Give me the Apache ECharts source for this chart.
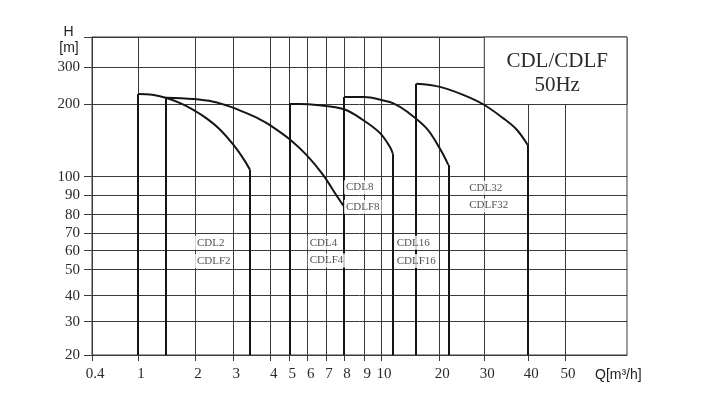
<!DOCTYPE html>
<html><head><meta charset="utf-8">
<script src="https://cdn.jsdelivr.net/npm/echarts@6/dist/echarts.min.js"></script>
<style>html,body{margin:0;padding:0;background:#fff}#c{width:708px;height:409px}</style>
</head><body><div id="c"></div>
<script>
// ---- tick labels ----
const xTicks = [0.4, 1, 2, 3, 4, 5, 6, 7, 8, 9, 10, 20, 30, 40, 50];
const yTicks = [20, 30, 40, 50, 60, 70, 80, 90, 100, 200, 300];

// ---- series values: Q [m3/h] and H [m] along each curve ----
const cdl2Q  = [1, 1.19, 1.4, 1.67, 1.96, 2.26, 2.61, 3.0, 3.24, 3.41];
const cdl2H  = [224, 222, 215, 203, 190, 175, 157, 136, 119, 107];
const cdl4Q  = [1.4, 1.96, 2.43, 2.9, 3.32, 3.68, 3.98, 5.03, 5.94, 6.84, 7.55, 8];
const cdl4H  = [215, 212, 206, 196, 184, 173.5, 164, 143, 123, 101.6, 90, 84];
const cdl8Q  = [5, 5.56, 6.47, 8, 8.95, 9.94, 11.13, 11.5];
const cdl8H  = [201, 201, 199, 191, 172, 152, 133, 125];
const cdl16Q = [8, 9, 10.3, 11.6, 13.6, 17.2, 20.1, 21.7];
const cdl16H = [217, 217, 209, 202.5, 187, 159, 131, 112];
const cdl32Q = [15.2, 20.1, 24.8, 29.8, 34, 37.1, 39.8];
const cdl32H = [250, 242, 222, 200, 175, 157, 136];

// ---- family labels (text and where they sit, in Q/H units) ----
const labelTop    = ['CDL2', 'CDL4', 'CDL8', 'CDL16', 'CDL32'];
const labelBottom = ['CDLF2', 'CDLF4', 'CDLF8', 'CDLF16', 'CDLF32'];
const labelQ      = [2, 6, 8, 11.77, 25.7];
const labelTopH   = [64.4, 64.4, 94.1, 64.4, 93.9];
const labelBotH   = [54.4, 54.6, 83.9, 54.4, 84.5];
const boxTitle = 'CDL/CDLF\n50Hz';
const boxFromQ = 30, boxFromH = 200;

// ---- printed scale of the chart (non-uniform logarithmic grid) ----
const xScaleVals = [0.4, 1, 2, 3, 4, 5, 6, 7, 8, 9, 10, 20, 30, 40, 50, 70];
const xScaleAt   = [0, 46, 103, 141.3, 178.7, 197.3, 215.7, 234, 252, 272.3, 289, 347.3, 392.3, 436.3, 473, 535];
const yScaleVals = [20, 30, 40, 50, 60, 70, 80, 90, 100, 200, 300, 400];
const yScaleAt   = [0, 33.3, 59.3, 85.3, 104.3, 121.7, 140.3, 160, 178.3, 250.5, 288, 318];

function scale(vals, at) {
  return function (v) {
    for (let i = 0; i < vals.length - 1; i++) {
      if (v <= vals[i + 1] || i === vals.length - 2) {
        const f = Math.log(v / vals[i]) / Math.log(vals[i + 1] / vals[i]);
        return at[i] + f * (at[i + 1] - at[i]);
      }
    }
  };
}
const sx = scale(xScaleVals, xScaleAt);
const sy = scale(yScaleVals, yScaleAt);
const xMax = xScaleAt[xScaleAt.length - 1];
const yMax = yScaleAt[yScaleAt.length - 1];
const H0 = yScaleVals[0];

function labelOf(ticks, s) {
  return function (v) {
    for (const t of ticks) if (Math.abs(s(t) - v) < 0.01) return String(t);
    return '';
  };
}

const families = [
  [cdl2Q, cdl2H], [cdl4Q, cdl4H], [cdl8Q, cdl8H], [cdl16Q, cdl16H], [cdl32Q, cdl32H]
];
const INK = '#151515';
const GRID = '#3a3a3a';
const SERIF = 'Liberation Serif';

const series = families.map(([Q, H], k) => {
  const n = Q.length - 1;
  return {
    type: 'line',
    name: labelTop[k],
    data: Q.map((q, i) => [sx(q), sy(H[i])]),
    smooth: 0.35,
    symbol: 'none',
    lineStyle: { color: INK, width: 2 },
    z: 3,
    markLine: {
      silent: true,
      symbol: ['none', 'none'],
      label: { show: false },
      lineStyle: { color: INK, width: 2, type: 'solid' },
      emphasis: { disabled: true },
      data: [
        [{ coord: [sx(Q[0]), sy(H0)] }, { coord: [sx(Q[0]), sy(H[0])] }],
        [{ coord: [sx(Q[n]), sy(H[n])] }, { coord: [sx(Q[n]), sy(H0)] }]
      ]
    }
  };
});

const labelData = [];
labelTop.forEach((t, i) => {
  labelData.push([sx(labelQ[i]), sy(labelTopH[i]), t]);
  labelData.push([sx(labelQ[i]), sy(labelBotH[i]), labelBottom[i]]);
});

series.push({
  type: 'scatter',
  data: labelData,
  symbolSize: 0,
  silent: true,
  z: 10,
  label: {
    show: true, position: 'right', distance: 0,
    formatter: p => p.data[2],
    fontFamily: SERIF, fontSize: 11, lineHeight: 12, color: '#1e1e1e',
    backgroundColor: '#fff', padding: [1, 2]
  },
  markArea: {
    silent: true,
    itemStyle: { color: '#fff', borderColor: GRID, borderWidth: 1 },
    label: {
      show: true, position: 'inside', formatter: boxTitle,
      fontFamily: SERIF, fontSize: 21, lineHeight: 24, color: '#2a2a2a',
      offset: [1.5, 2.5]
    },
    data: [[{ coord: [sx(boxFromQ), sy(boxFromH)] }, { coord: [xMax, yMax] }]]
  }
});

const chart = echarts.init(document.getElementById('c'), null, { renderer: 'canvas' });
chart.setOption({
  animation: false,
  backgroundColor: '#fff',
  grid: { left: 92, right: 81, top: 37, bottom: 54, show: true, borderColor: GRID, borderWidth: 1 },
  xAxis: {
    type: 'value', min: 0, max: xMax,
    axisLine: { show: true, lineStyle: { color: GRID, width: 1 } },
    axisTick: { show: true, length: 6, lineStyle: { color: GRID }, customValues: xTicks.map(sx) },
    axisLabel: {
      customValues: xTicks.map(sx), formatter: labelOf(xTicks, sx),
      fontFamily: SERIF, fontSize: 15, color: '#2a2a2a', margin: 12, padding: [0, 0, 0, 6]
    },
    splitLine: { show: true, lineStyle: { color: GRID, width: 1 } }
  },
  yAxis: {
    type: 'value', min: 0, max: yMax,
    axisLine: { show: true, lineStyle: { color: GRID, width: 1 } },
    axisTick: { show: true, length: 8, lineStyle: { color: GRID }, customValues: yTicks.concat([yScaleVals[yScaleVals.length - 1]]).map(sy) },
    axisLabel: {
      customValues: yTicks.map(sy), formatter: labelOf(yTicks, sy),
      fontFamily: SERIF, fontSize: 15, color: '#2a2a2a', margin: 12
    },
    splitLine: { show: true, lineStyle: { color: GRID, width: 1 } }
  },
  graphic: [
    { type: 'text', x: 68.5, y: 32, style: { text: 'H', font: '14px "Liberation Sans"', fill: '#222', textAlign: 'center', textVerticalAlign: 'middle' } },
    { type: 'text', x: 69, y: 48, style: { text: '[m]', font: '14px "Liberation Sans"', fill: '#222', textAlign: 'center', textVerticalAlign: 'middle' } },
    { type: 'text', x: 595, y: 375.5, style: { text: 'Q[m³/h]', font: '14px "Liberation Sans"', fill: '#222', textAlign: 'left', textVerticalAlign: 'middle' } }
  ],
  series: series
});
</script>
</body></html>
